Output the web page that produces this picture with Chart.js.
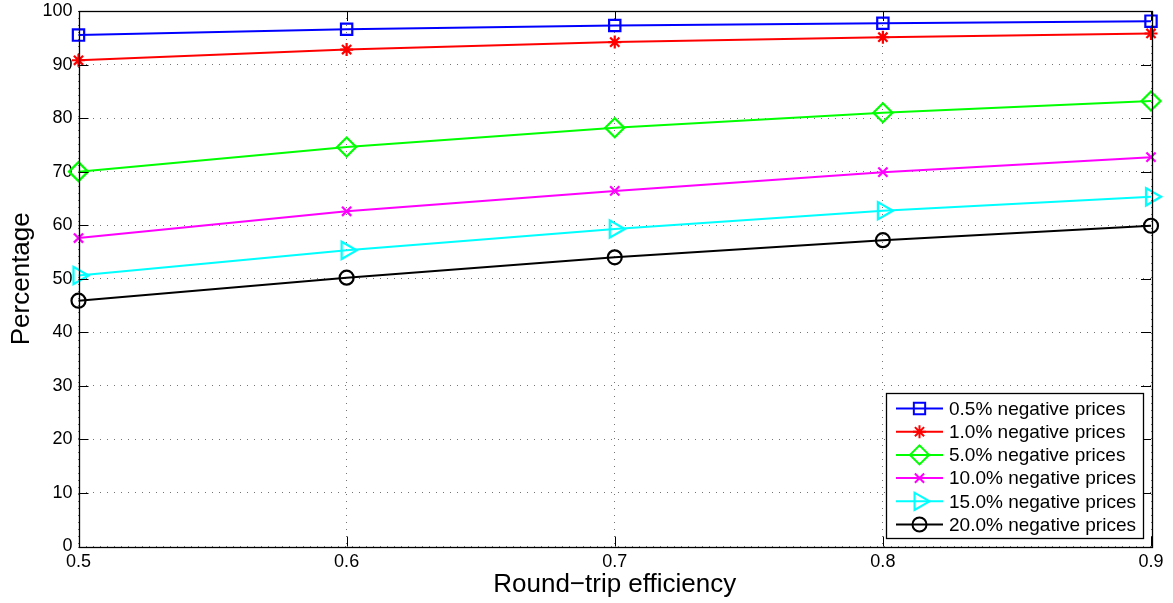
<!DOCTYPE html>
<html>
<head>
<meta charset="utf-8">
<script src="https://cdn.jsdelivr.net/npm/chart.js@4/dist/chart.umd.min.js"></script>
<style>
  html, body { margin: 0; padding: 0; background: #fff; }
  #wrap { width: 1173px; height: 603px; }
</style>
</head>
<body>
<div id="wrap"><canvas id="chart"></canvas></div>
<script>
/* global Chart */
const efficiency = [0.5, 0.6, 0.7, 0.8, 0.9]
const xTicks = [0.5, 0.6, 0.7, 0.8, 0.9]
const yTicks = [0, 10, 20, 30, 40, 50, 60, 70, 80, 90, 100]

const neg05 = [95.5, 96.6, 97.3, 97.7, 98.1]
const neg10 = [90.8, 92.8, 94.2, 95.1, 95.8]
const neg50 = [70.0, 74.6, 78.2, 81.0, 83.2]
const neg100 = [57.6, 62.6, 66.4, 69.9, 72.7]
const neg150 = [50.6, 55.3, 59.3, 62.7, 65.3]
const neg200 = [45.9, 50.2, 54.0, 57.2, 59.9]

const seriesLabels = [
  '0.5% negative prices',
  '1.0% negative prices',
  '5.0% negative prices',
  '10.0% negative prices',
  '15.0% negative prices',
  '20.0% negative prices'
]
const seriesValues = [neg05, neg10, neg50, neg100, neg150, neg200]
const seriesColors = ['#0000ff', '#ff0000', '#00ff00', '#ff00ff', '#00ffff', '#000000']
const seriesMarkers = [
  { style: 'rect', radius: 8, rotation: 0 },
  { style: 'star', radius: 6.5, rotation: 0 },
  { style: 'rectRot', radius: 9.5, rotation: 0 },
  { style: 'crossRot', radius: 6.5, rotation: 0 },
  { style: 'triangle', radius: 10, rotation: 90 },
  { style: 'circle', radius: 7, rotation: 0 }
]

const FONT = '"Liberation Sans", Arial, Helvetica, sans-serif'

// matlab-like frame: box, inward ticks and legend inside the axes
const matlabFrame = {
  id: 'matlabFrame',
  afterDraw (chart) {
    const ctx = chart.ctx
    const a = chart.chartArea
    const xs = chart.scales.x
    const ys = chart.scales.y
    ctx.save()
    ctx.strokeStyle = '#000'
    ctx.lineWidth = 1
    ctx.beginPath()
    xTicks.forEach(v => {
      const px = Math.round(xs.getPixelForValue(v)) + 0.5
      ctx.moveTo(px, a.bottom); ctx.lineTo(px, a.bottom - 10)
      ctx.moveTo(px, a.top); ctx.lineTo(px, a.top + 10)
    })
    yTicks.forEach(v => {
      const py = Math.round(ys.getPixelForValue(v)) + 0.5
      ctx.moveTo(a.left, py); ctx.lineTo(a.left + 10, py)
      ctx.moveTo(a.right, py); ctx.lineTo(a.right - 10, py)
    })
    ctx.stroke()
    ctx.lineWidth = 1.3
    ctx.strokeRect(Math.round(a.left) + 0.5, Math.round(a.top) + 0.5,
      Math.round(a.right - a.left), Math.round(a.bottom - a.top))

    // legend box
    const lx = 886, ly = 393, lw = 257, lh = 145
    ctx.fillStyle = '#fff'
    ctx.fillRect(lx, ly, lw, lh)
    ctx.lineWidth = 1.3
    ctx.strokeRect(lx + 0.5, ly + 0.5, lw, lh)
    ctx.font = '19px ' + FONT
    ctx.textBaseline = 'middle'
    ctx.textAlign = 'left'
    chart.data.datasets.forEach((ds, i) => {
      const y = ly + 15.5 + i * 23.2
      ctx.strokeStyle = ds.borderColor
      ctx.lineWidth = 2
      ctx.beginPath()
      ctx.moveTo(896, y); ctx.lineTo(943, y)
      ctx.stroke()
      ctx.fillStyle = 'rgba(0,0,0,0)'
      Chart.helpers.drawPoint(ctx, {
        pointStyle: ds.pointStyle,
        rotation: ds.pointRotation,
        radius: ds.pointRadius,
        borderWidth: 2
      }, 919.5, y)
      ctx.fillStyle = '#000'
      ctx.fillText(ds.label, 949, y + 1)
    })
    ctx.restore()
  }
}

const datasets = seriesLabels.map((label, i) => ({
  label: label,
  data: efficiency.map((x, j) => ({ x: x, y: seriesValues[i][j] })),
  borderColor: seriesColors[i],
  backgroundColor: 'rgba(0,0,0,0)',
  borderWidth: 2,
  pointStyle: seriesMarkers[i].style,
  pointRadius: seriesMarkers[i].radius,
  pointRotation: seriesMarkers[i].rotation,
  pointBorderWidth: 2.2,
  pointBorderColor: seriesColors[i],
  pointBackgroundColor: 'rgba(0,0,0,0)',
  tension: 0,
  clip: false
}))

const gridStyle = {
  color: 'rgba(70,70,70,0.75)',
  lineWidth: 1,
  drawTicks: false
}

new Chart(document.getElementById('chart'), {
  type: 'line',
  data: { datasets: datasets },
  options: {
    responsive: true,
    maintainAspectRatio: false,
    animation: false,
    events: [],
    layout: { autoPadding: false, padding: { left: 6, right: 22, top: 11, bottom: 0 } },
    plugins: {
      legend: { display: false },
      tooltip: { enabled: false }
    },
    scales: {
      x: {
        type: 'linear',
        min: 0.5,
        max: 0.9,
        afterBuildTicks: s => { s.ticks = xTicks.map(v => ({ value: v })) },
        afterFit: s => { s.height = 56.5; s.paddingLeft = 0; s.paddingRight = 0 },
        grid: gridStyle,
        border: { display: false, dash: [1, 6] },
        ticks: {
          padding: 5,
          color: '#000',
          font: { family: FONT, size: 18 },
          maxRotation: 0,
          callback: v => v.toFixed(1)
        },
        title: {
          display: true,
          text: 'Round\u2212trip efficiency',
          color: '#000',
          font: { family: FONT, size: 26 },
          padding: { top: 0, bottom: 3 }
        }
      },
      y: {
        min: 0,
        max: 100,
        afterBuildTicks: s => { s.ticks = yTicks.map(v => ({ value: v })) },
        afterFit: s => { s.width = 72.5; s.paddingTop = 0; s.paddingBottom = 0 },
        grid: gridStyle,
        border: { display: false, dash: [1, 6] },
        ticks: {
          padding: 6,
          color: '#000',
          font: { family: FONT, size: 18 },
          callback: v => String(v)
        },
        title: {
          display: true,
          text: 'Percentage',
          color: '#000',
          font: { family: FONT, size: 26 },
          padding: { top: 0, bottom: 0 }
        }
      }
    }
  },
  plugins: [matlabFrame]
})
</script>
</body>
</html>
